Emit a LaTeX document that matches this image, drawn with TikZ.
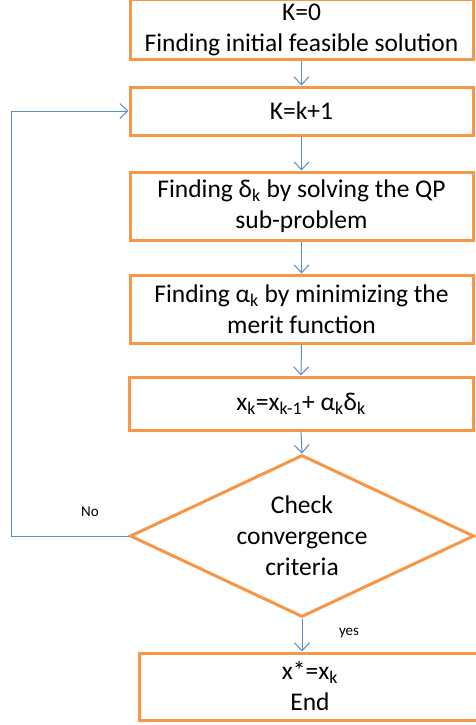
\documentclass[tikz,border=0pt]{standalone}
\usepackage{fontspec}
\setmainfont{Carlito}
\usetikzlibrary{arrows.meta,shapes.geometric}
\definecolor{boxorange}{HTML}{F79646}
\definecolor{linkblue}{HTML}{5B8BC9}
\tikzset{
  stepbox/.style={draw=boxorange,line width=3pt,rectangle,inner sep=0pt,align=center,
    font=\fontsize{25.5}{31}\selectfont},
  decision/.style={draw=boxorange,line width=3pt,diamond,inner sep=0pt,aspect=2.12,align=center,
    font=\fontsize{25.5}{31}\selectfont},
  link/.style={draw=linkblue,line width=1pt,-{Straight Barb[length=8pt,width=15pt,line width=1pt]}},
  tag/.style={font=\fontsize{15}{17}\selectfont,inner sep=0pt}
}
\newcommand{\sbk}{\textsubscript{k}}
\begin{document}
\begin{tikzpicture}[x=1pt,y=-1pt]
\useasboundingbox (0,0) rectangle (475,725);
\node[stepbox,minimum width=343pt,minimum height=60pt] (init) at (301.5,30) {K=0\\Finding initial feasible solution};
\node[stepbox,minimum width=343pt,minimum height=48pt] (inc) at (301.5,111) {K=k+1};
\node[stepbox,minimum width=343pt,minimum height=68pt] (qp) at (301.5,206) {Finding δ\sbk{} by solving the QP\\sub-problem};
\node[stepbox,minimum width=343pt,minimum height=68pt] (merit) at (301.5,309) {Finding α\sbk{} by minimizing the\\merit function};
\node[stepbox,minimum width=344pt,minimum height=53pt] (upd) at (301,403.5) {x\sbk=x\textsubscript{k-1}+ α\sbk δ\sbk};
\node[decision,minimum width=344pt,minimum height=162pt] (conv) at (302,536) {Check\\convergence\\criteria};
\node[stepbox,minimum width=342pt,minimum height=67pt] (fin) at (310,686.5) {x*=x\sbk\\End};
\coordinate (corner) at (11,536);
\node[tag] (no) at (90,512) {No};
\node[tag] (yes) at (349,633) {yes};
\draw[link] (init.south) -- (inc.north);
\draw[link] (inc.south) -- (qp.north);
\draw[link] (qp.south) -- (merit.north);
\draw[link] (merit.south) -- (upd.north);
\draw[link] (upd.south) -- (conv.north);
\draw[link] (conv.south) -- (conv.south |- fin.north);
\draw[link] (conv.west) -- (corner) |- (inc.west);
\end{tikzpicture}
\end{document}
